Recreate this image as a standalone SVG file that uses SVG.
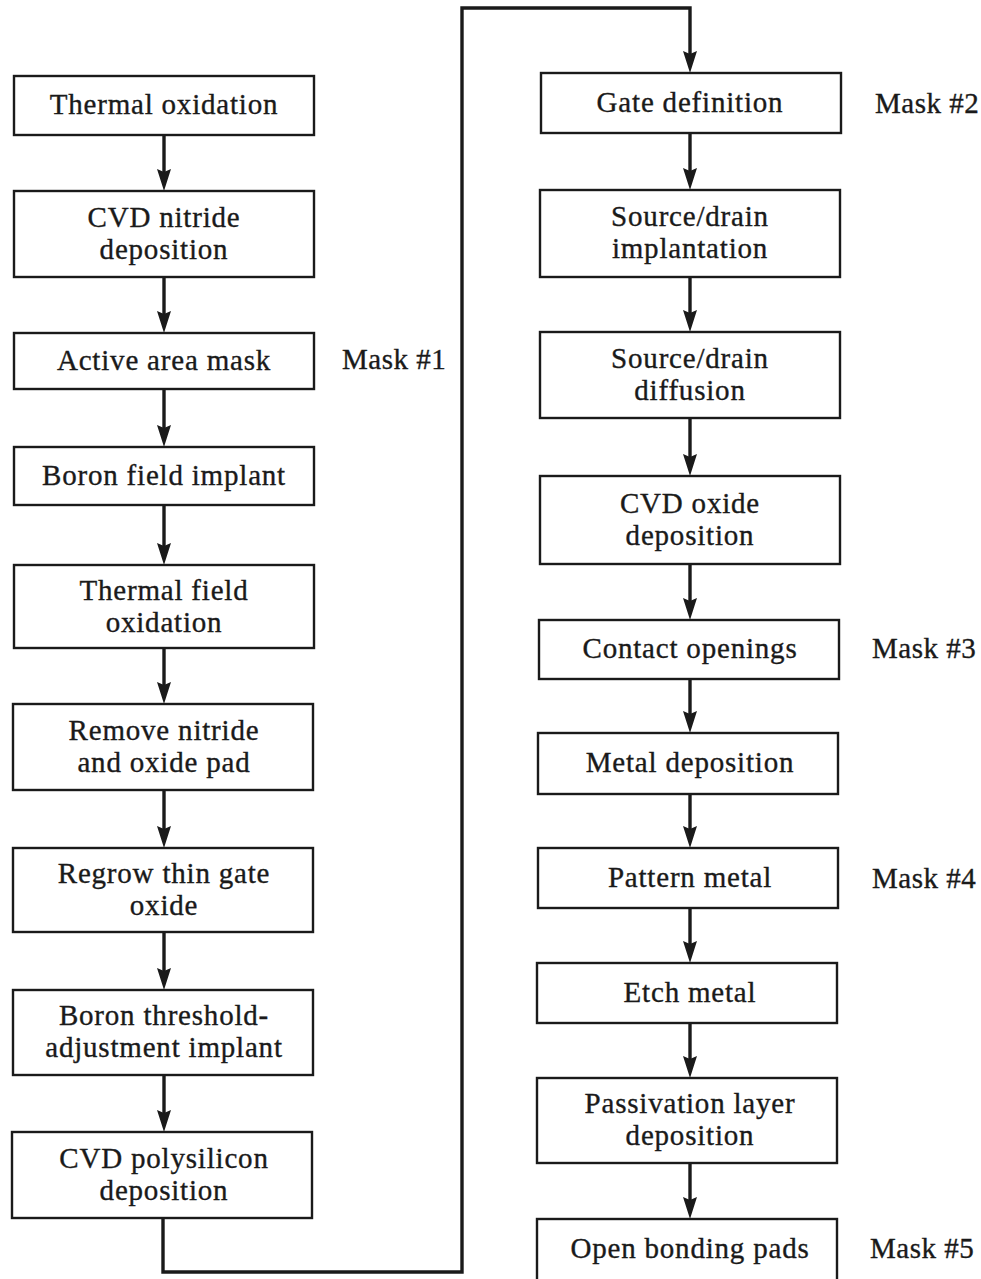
<svg xmlns="http://www.w3.org/2000/svg" width="981" height="1279" viewBox="0 0 981 1279">
<defs>
<style>
.box{fill:#fff;stroke:#1a1a1a;stroke-width:2.4}
.t{font-family:"Liberation Serif","Times New Roman",serif;font-size:29px;fill:#1a1a1a;stroke:#1a1a1a;stroke-width:0.35;text-anchor:middle;letter-spacing:0.8px}
.m{font-family:"Liberation Serif","Times New Roman",serif;font-size:29px;fill:#1a1a1a;stroke:#1a1a1a;stroke-width:0.35;letter-spacing:0.5px}
.c{fill:none;stroke:#1a1a1a;stroke-width:3.4}
</style>
<marker id="ah" markerUnits="userSpaceOnUse" viewBox="0 0 22 14" refX="13" refY="7" markerWidth="22" markerHeight="14" orient="auto">
<path d="M0,0 L22,7 L0,14 L3,7 z" fill="#1a1a1a"/>
</marker>
</defs>
<rect width="981" height="1279" fill="#fff"/>

<g id="connectors">
<line class="c" x1="164" y1="135" x2="164" y2="182" marker-end="url(#ah)"/>
<line class="c" x1="164" y1="277" x2="164" y2="324" marker-end="url(#ah)"/>
<line class="c" x1="164" y1="389" x2="164" y2="438" marker-end="url(#ah)"/>
<line class="c" x1="164" y1="505" x2="164" y2="556" marker-end="url(#ah)"/>
<line class="c" x1="164" y1="648" x2="164" y2="695" marker-end="url(#ah)"/>
<line class="c" x1="164" y1="790" x2="164" y2="839" marker-end="url(#ah)"/>
<line class="c" x1="164" y1="932" x2="164" y2="981" marker-end="url(#ah)"/>
<line class="c" x1="164" y1="1075" x2="164" y2="1123" marker-end="url(#ah)"/>
<path class="c" d="M163,1218 V1272 H462 V8 H690 V64" marker-end="url(#ah)"/>
<line class="c" x1="690" y1="133" x2="690" y2="181" marker-end="url(#ah)"/>
<line class="c" x1="690" y1="277" x2="690" y2="323" marker-end="url(#ah)"/>
<line class="c" x1="690" y1="418" x2="690" y2="467" marker-end="url(#ah)"/>
<line class="c" x1="690" y1="564" x2="690" y2="611" marker-end="url(#ah)"/>
<line class="c" x1="690" y1="679" x2="690" y2="724" marker-end="url(#ah)"/>
<line class="c" x1="690" y1="794" x2="690" y2="839" marker-end="url(#ah)"/>
<line class="c" x1="690" y1="908" x2="690" y2="954" marker-end="url(#ah)"/>
<line class="c" x1="690" y1="1023" x2="690" y2="1069" marker-end="url(#ah)"/>
<line class="c" x1="690" y1="1163" x2="690" y2="1210" marker-end="url(#ah)"/>
</g>

<g id="n1"><rect class="box" x="14" y="76" width="300" height="59"/><text class="t" x="164" y="114">Thermal oxidation</text></g>
<g id="n2"><rect class="box" x="14" y="191" width="300" height="86"/><text class="t" x="164" y="227">CVD nitride</text><text class="t" x="164" y="259">deposition</text></g>
<g id="n3"><rect class="box" x="14" y="333" width="300" height="56"/><text class="t" x="164" y="370">Active area mask</text></g>
<g id="n4"><rect class="box" x="14" y="447" width="300" height="58"/><text class="t" x="164" y="485">Boron field implant</text></g>
<g id="n5"><rect class="box" x="14" y="565" width="300" height="83"/><text class="t" x="164" y="600">Thermal field</text><text class="t" x="164" y="632">oxidation</text></g>
<g id="n6"><rect class="box" x="13" y="704" width="300" height="86"/><text class="t" x="164" y="740">Remove nitride</text><text class="t" x="164" y="772">and oxide pad</text></g>
<g id="n7"><rect class="box" x="13" y="848" width="300" height="84"/><text class="t" x="164" y="883">Regrow thin gate</text><text class="t" x="164" y="915">oxide</text></g>
<g id="n8"><rect class="box" x="13" y="990" width="300" height="85"/><text class="t" x="164" y="1025">Boron threshold-</text><text class="t" x="164" y="1057">adjustment implant</text></g>
<g id="n9"><rect class="box" x="12" y="1132" width="300" height="86"/><text class="t" x="164" y="1168">CVD polysilicon</text><text class="t" x="164" y="1200">deposition</text></g>

<g id="n10"><rect class="box" x="541" y="73" width="300" height="60"/><text class="t" x="690" y="112">Gate definition</text></g>
<g id="n11"><rect class="box" x="540" y="190" width="300" height="87"/><text class="t" x="690" y="226">Source/drain</text><text class="t" x="690" y="258">implantation</text></g>
<g id="n12"><rect class="box" x="540" y="332" width="300" height="86"/><text class="t" x="690" y="368">Source/drain</text><text class="t" x="690" y="400">diffusion</text></g>
<g id="n13"><rect class="box" x="540" y="476" width="300" height="88"/><text class="t" x="690" y="513">CVD oxide</text><text class="t" x="690" y="545">deposition</text></g>
<g id="n14"><rect class="box" x="539" y="620" width="300" height="59"/><text class="t" x="690" y="658">Contact openings</text></g>
<g id="n15"><rect class="box" x="538" y="733" width="300" height="61"/><text class="t" x="690" y="772">Metal deposition</text></g>
<g id="n16"><rect class="box" x="538" y="848" width="300" height="60"/><text class="t" x="690" y="887">Pattern metal</text></g>
<g id="n17"><rect class="box" x="537" y="963" width="300" height="60"/><text class="t" x="690" y="1002">Etch metal</text></g>
<g id="n18"><rect class="box" x="537" y="1078" width="300" height="85"/><text class="t" x="690" y="1113">Passivation layer</text><text class="t" x="690" y="1145">deposition</text></g>
<g id="n19"><rect class="box" x="537" y="1219" width="300" height="75"/><text class="t" x="690" y="1258">Open bonding pads</text></g>

<g id="masks">
<text class="m" x="342" y="369">Mask #1</text>
<text class="m" x="875" y="113">Mask #2</text>
<text class="m" x="872" y="658">Mask #3</text>
<text class="m" x="872" y="888">Mask #4</text>
<text class="m" x="870" y="1258">Mask #5</text>
</g>
</svg>
